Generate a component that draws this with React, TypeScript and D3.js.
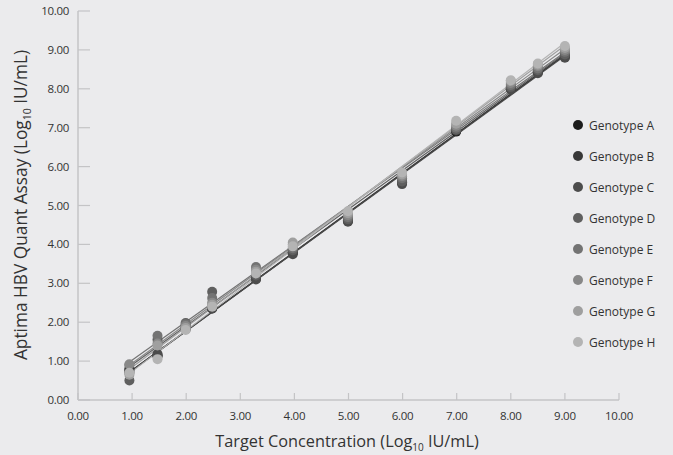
import React from "react";
import * as d3 from "d3";

const targets = [0.95, 1.47, 1.99, 2.48, 3.29, 3.97, 4.99, 5.99, 6.99, 8.0, 8.5, 9.0];
const genotypes = ["Genotype A", "Genotype B", "Genotype C", "Genotype D", "Genotype E", "Genotype F", "Genotype G", "Genotype H"];
const colors = ["#1c1c1c", "#383838", "#4c4c4c", "#5f5f5f", "#737373", "#888888", "#9f9f9f", "#b4b4b4"];

const genoA = [0.8, 1.15, 1.82, 2.35, 3.12, 3.78, 4.6, 5.6, 6.9, 8.0, 8.42, 8.85];
const genoB = [0.75, 1.12, 1.85, 2.4, 3.15, 3.8, 4.62, 5.58, 6.92, 8.02, 8.45, 8.82];
const genoC = [0.7, 1.18, 1.9, 2.35, 3.1, 3.75, 4.58, 5.55, 6.95, 7.98, 8.4, 8.8];
const genoD = [0.5, 1.55, 1.98, 2.78, 3.2, 3.85, 4.65, 5.62, 6.95, 8.05, 8.48, 8.88];
const genoE = [0.9, 1.65, 1.95, 2.62, 3.42, 3.9, 4.7, 5.7, 7.0, 8.1, 8.52, 8.95];
const genoF = [0.92, 1.45, 1.9, 2.5, 3.35, 4.0, 4.75, 5.75, 7.05, 8.15, 8.58, 9.0];
const genoG = [0.65, 1.4, 1.85, 2.45, 3.3, 4.05, 4.8, 5.8, 7.1, 8.2, 8.62, 9.05];
const genoH = [0.7, 1.05, 1.8, 2.4, 3.25, 3.95, 4.85, 5.85, 7.18, 8.22, 8.65, 9.1];

const series = [genoA, genoB, genoC, genoD, genoE, genoF, genoG, genoH];
const ticks = [0, 1, 2, 3, 4, 5, 6, 7, 8, 9, 10];

const W = 673, H = 455;
const FONT = "'Open Sans', Lato, sans-serif";

function fit(xs: number[], ys: number[]) {
  const mx = d3.mean(xs) as number, my = d3.mean(ys) as number;
  let sxy = 0, sxx = 0;
  xs.forEach((x, i) => { sxy += (x - mx) * (ys[i] - my); sxx += (x - mx) * (x - mx); });
  const b = sxy / sxx;
  return { a: my - b * mx, b };
}

export default function App() {
  const x = d3.scaleLinear().domain([0, 10]).range([78, 619]);
  const y = d3.scaleLinear().domain([0, 10]).range([400, 11]);
  const line = d3.line<[number, number]>().x(d => x(d[0])).y(d => y(d[1]));
  const x0 = 0.88, x1 = 9.0;
  return (
    <svg width={W} height={H} style={{ position: "absolute", left: 0, top: 0, background: "#ebebed" }}>
      <rect width={W} height={H} fill="#ebebed" />
      <line x1={x(0)} x2={x(0)} y1={y(10)} y2={y(0)} stroke="#c4c4c6" strokeWidth={1.5} />
      <line x1={x(0)} x2={x(10)} y1={y(0)} y2={y(0)} stroke="#c4c4c6" strokeWidth={1.5} />
      {ticks.map(t => (
        <g key={"y" + t}>
          <line x1={x(0)} x2={x(0) + 12} y1={y(t)} y2={y(t)} stroke="#c4c4c6" strokeWidth={1.2} />
          <text x={69} y={y(t) + 4} textAnchor="end" fontSize={11.5} fill="#333" fontFamily={FONT} letterSpacing={-0.3}>{t.toFixed(2)}</text>
        </g>
      ))}
      {ticks.map(t => (
        <g key={"x" + t}>
          <line x1={x(t)} x2={x(t)} y1={y(0)} y2={y(0) - 7} stroke="#c4c4c6" strokeWidth={1.2} />
          <text x={x(t)} y={420} textAnchor="middle" fontSize={11.5} fill="#333" fontFamily={FONT} letterSpacing={-0.3}>{t.toFixed(2)}</text>
        </g>
      ))}
      {series.map((s, i) => {
        const { a, b } = fit(targets, s);
        return <path key={"l" + i} d={line([[x0, a + b * x0], [x1, a + b * x1]]) as string} stroke={colors[i]} strokeWidth={1.2} fill="none" />;
      })}
      {series.map((s, i) => (
        <g key={"p" + i}>
          {s.map((v, j) => (
            <circle key={j} cx={x(targets[j])} cy={y(v)} r={5} fill={colors[i]} />
          ))}
        </g>
      ))}
      {genotypes.map((g, i) => (
        <g key={"lg" + i} transform={`translate(578, ${125 + i * 31})`}>
          <circle r={5} fill={colors[i]} />
          <text x={11} y={4.5} fontSize={12} fill="#333" fontFamily={FONT}>{g}</text>
        </g>
      ))}
      <text x={347} y={447} textAnchor="middle" fontSize={16.3} fill="#333" fontFamily={FONT}>
        Target Concentration (Log<tspan fontSize={10} dy={4}>10</tspan><tspan dy={-4}> IU/mL)</tspan>
      </text>
      <text transform={`translate(27, 205) rotate(-90)`} textAnchor="middle" fontSize={17.3} fill="#333" fontFamily={FONT}>
        Aptima HBV Quant Assay (Log<tspan fontSize={10.5} dy={4}>10</tspan><tspan dy={-4}> IU/mL)</tspan>
      </text>
    </svg>
  );
}
